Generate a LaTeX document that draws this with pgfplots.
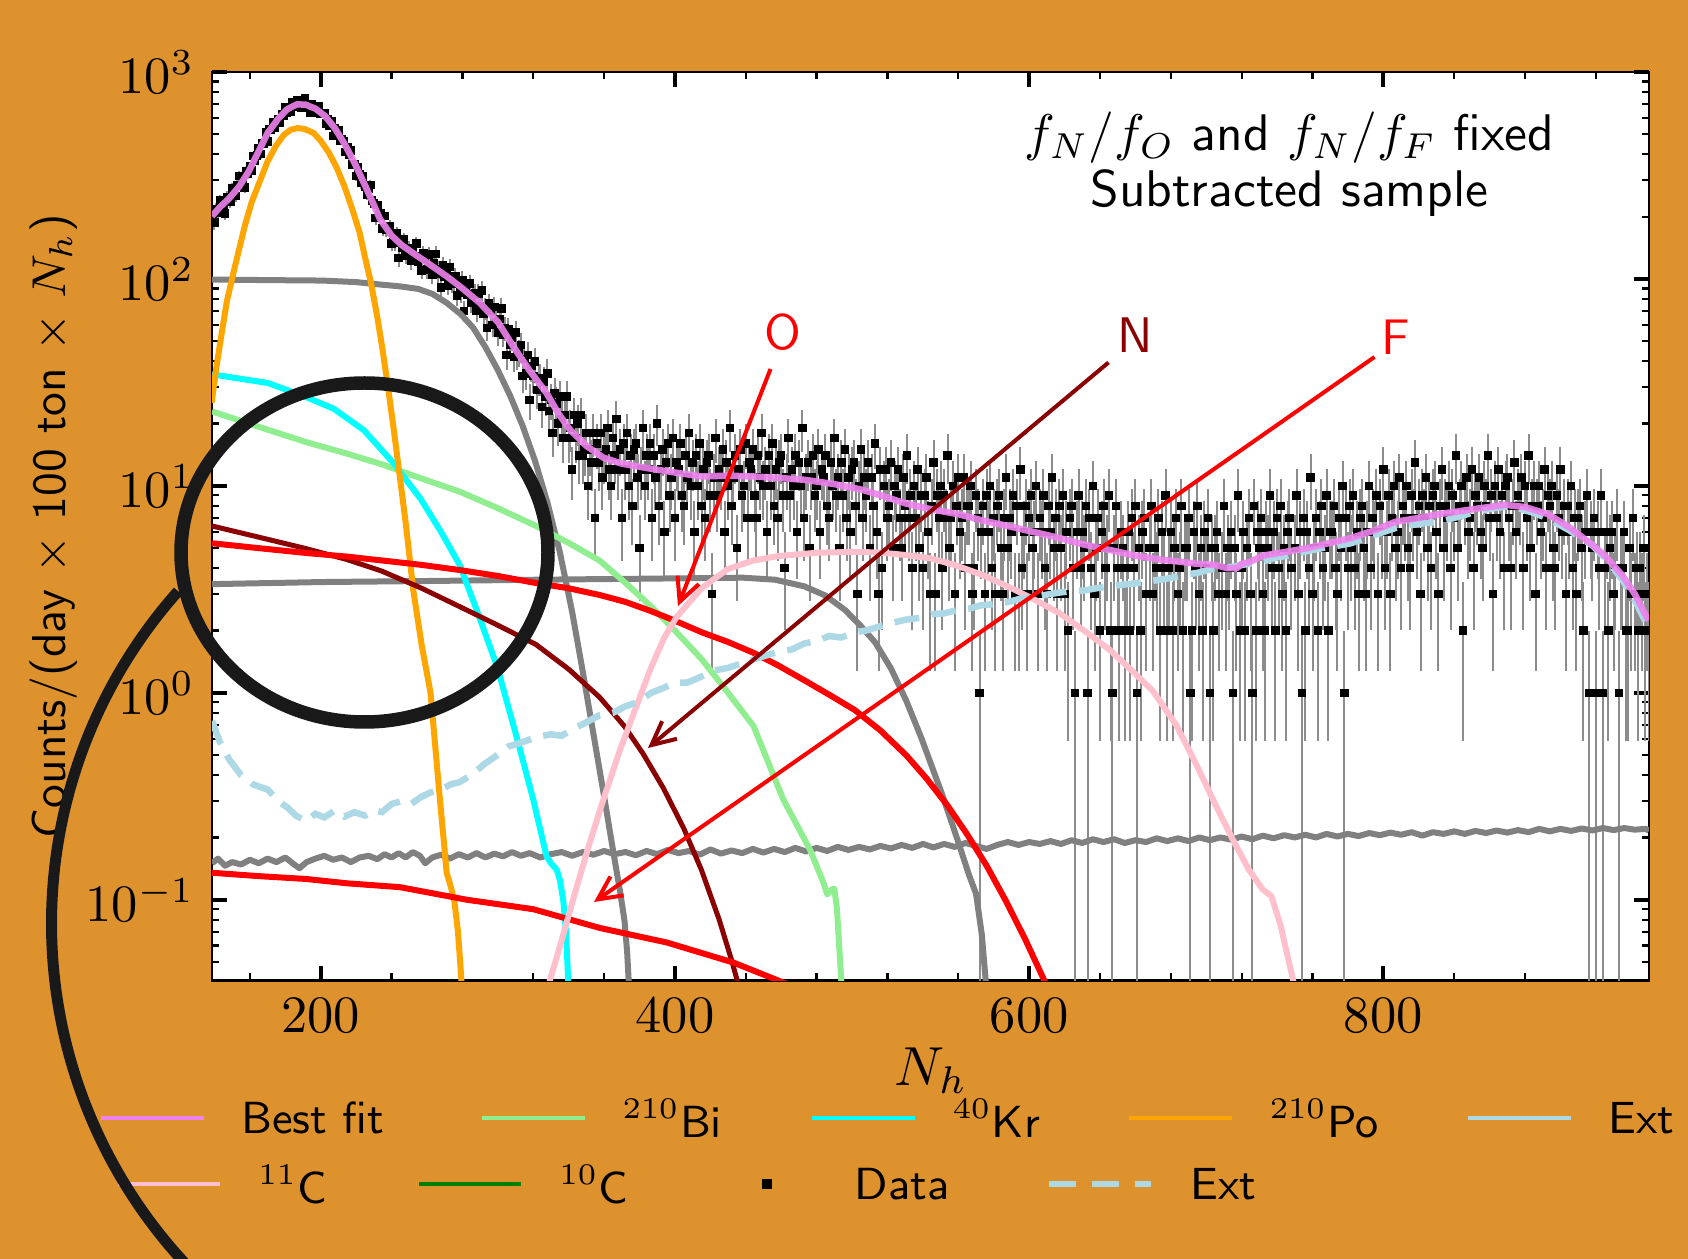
\RequirePackage{fix-cm}
\documentclass[border=0pt]{standalone}
\usepackage{pgfplots}
\pgfplotsset{compat=1.18}
\usepackage{pgfplotstable}
\usetikzlibrary{arrows.meta}
\definecolor{bg}{RGB}{221,146,46}
\definecolor{bestfit}{RGB}{238,130,238}
\definecolor{bi}{RGB}{144,238,144}
\definecolor{kr}{RGB}{0,255,255}
\definecolor{po}{RGB}{255,165,0}
\definecolor{ext}{RGB}{173,216,230}
\definecolor{cel}{RGB}{255,192,203}
\definecolor{cten}{RGB}{0,128,0}
\definecolor{dred}{RGB}{139,0,0}
\definecolor{grayc}{RGB}{128,128,128}
\pgfplotstableread[row sep=\\]{
x y\\
139 206\\140 187\\141 218\\142 208\\143 240\\144 211\\145 227\\146 207\\147 249\\148 246\\
149 235\\150 273\\151 258\\152 252\\153 283\\154 315\\155 281\\156 301\\157 276\\158 333\\
159 323\\160 349\\161 335\\162 393\\163 373\\164 396\\165 428\\166 402\\167 453\\168 452\\
169 509\\170 461\\171 529\\172 525\\173 573\\174 537\\175 574\\176 592\\177 567\\178 627\\
179 617\\180 679\\181 633\\182 669\\183 643\\184 712\\185 701\\186 676\\187 731\\188 695\\
189 673\\190 710\\191 744\\192 677\\193 691\\194 637\\195 702\\196 667\\197 678\\198 632\\
199 682\\200 626\\201 625\\202 633\\203 565\\204 588\\205 552\\206 577\\207 490\\208 533\\
209 503\\210 523\\211 463\\212 472\\213 463\\214 411\\215 433\\216 397\\217 418\\218 358\\
219 359\\220 315\\221 346\\222 322\\223 290\\224 312\\225 279\\226 256\\227 272\\228 285\\
229 239\\230 232\\231 197\\232 228\\233 206\\234 208\\235 175\\236 201\\237 173\\238 174\\
239 180\\240 148\\241 164\\242 149\\243 166\\244 126\\245 152\\246 141\\247 155\\248 130\\
249 139\\250 141\\251 122\\252 141\\253 128\\254 148\\255 121\\256 127\\257 110\\258 133\\
259 125\\260 111\\261 131\\262 114\\263 105\\264 119\\265 132\\266 106\\267 111\\268 91\\
269 117\\270 103\\271 108\\272 93\\273 114\\274 95\\275 97\\276 103\\277 83\\278 96\\
279 86\\280 99\\281 70\\282 91\\283 84\\284 95\\285 77\\286 84\\287 85\\288 70\\
289 85\\290 74\\291 88\\292 68\\293 72\\294 58\\295 76\\296 70\\297 60\\298 73\\
299 62\\300 55\\301 64\\302 72\\303 54\\304 58\\305 43\\306 57\\307 48\\308 52\\
309 42\\310 55\\311 43\\312 44\\313 48\\314 34\\315 41\\316 35\\317 43\\318 26\\
319 38\\320 34\\321 40\\322 29\\323 33\\324 33\\325 24\\326 32\\327 27\\328 35\\
329 23\\330 26\\331 18\\332 28\\333 25\\334 20\\335 27\\336 21\\337 17\\338 22\\
339 27\\340 17\\341 19\\342 12\\343 22\\344 17\\345 20\\346 14\\347 22\\348 14\\
349 15\\350 18\\351 10\\352 15\\353 13\\354 18\\355 7\\356 16\\357 13\\358 18\\
359 11\\360 14\\361 15\\362 19\\363 12\\364 10\\365 17\\366 14\\367 21\\368 12\\
369 15\\370 7\\371 16\\372 12\\373 18\\374 10\\375 14\\376 8\\377 15\\378 16\\
379 11\\380 5\\381 12\\382 19\\383 10\\384 14\\385 12\\386 16\\387 7\\388 14\\
389 11\\390 20\\391 8\\392 12\\393 15\\394 6\\395 13\\396 16\\397 9\\398 11\\
399 17\\400 7\\401 13\\402 12\\403 16\\404 9\\405 8\\406 14\\407 11\\408 18\\
409 10\\410 13\\411 6\\412 14\\413 10\\414 16\\415 8\\416 12\\417 7\\418 13\\
419 14\\420 9\\421 3\\422 11\\423 17\\424 9\\425 12\\426 11\\427 15\\428 6\\
429 13\\430 10\\431 19\\432 8\\433 11\\434 14\\435 5\\436 12\\437 15\\438 9\\
439 10\\440 16\\441 7\\442 13\\443 12\\444 15\\445 9\\446 7\\447 14\\448 11\\
449 18\\450 10\\451 12\\452 6\\453 14\\454 10\\455 16\\456 8\\457 12\\458 7\\
459 13\\460 14\\461 9\\462 4\\463 11\\464 17\\465 9\\466 12\\467 10\\468 14\\
469 6\\470 13\\471 10\\472 19\\473 7\\474 11\\475 13\\476 5\\477 11\\478 14\\
479 9\\480 10\\481 15\\482 6\\483 12\\484 11\\485 14\\486 8\\487 7\\488 13\\
489 10\\490 17\\491 9\\492 11\\493 5\\494 13\\495 9\\496 15\\497 7\\498 11\\
499 6\\500 12\\501 13\\502 8\\503 3\\504 10\\505 15\\506 7\\507 11\\508 9\\
509 13\\510 5\\511 11\\512 8\\513 16\\514 6\\515 3\\516 12\\517 4\\518 10\\
519 12\\520 7\\521 8\\522 13\\523 5\\524 10\\525 9\\526 12\\527 7\\528 5\\
529 11\\530 8\\531 14\\532 7\\533 9\\534 4\\535 10\\536 7\\537 12\\538 5\\
539 9\\540 4\\541 9\\542 11\\543 6\\544 3\\545 8\\546 13\\547 3\\548 9\\
549 7\\550 10\\551 4\\552 9\\553 7\\554 14\\555 5\\556 7\\557 10\\558 3\\
559 8\\560 11\\561 6\\562 7\\563 11\\564 4\\565 8\\566 8\\567 10\\568 3\\
569 4\\570 9\\571 7\\572 1\\573 6\\574 8\\575 3\\576 9\\577 6\\578 10\\
579 4\\580 7\\581 3\\582 8\\583 9\\584 5\\585 3\\586 7\\587 11\\588 5\\
589 7\\590 6\\591 9\\592 3\\593 8\\594 3\\595 12\\596 4\\597 6\\598 8\\
599 3\\600 7\\601 9\\602 5\\603 6\\604 10\\605 3\\606 7\\607 6\\608 9\\
609 4\\610 3\\611 8\\612 6\\613 11\\614 5\\615 7\\616 3\\617 8\\618 5\\
619 9\\620 3\\621 6\\622 2\\623 7\\624 8\\625 4\\626 1\\627 6\\628 9\\
629 4\\630 6\\631 5\\632 8\\633 1\\634 7\\635 4\\636 10\\637 3\\638 5\\
639 7\\640 2\\641 6\\642 8\\643 4\\644 5\\645 9\\646 2\\647 1\\648 5\\
649 8\\650 4\\651 2\\652 6\\653 5\\654 2\\655 4\\656 6\\657 2\\658 7\\
659 4\\660 8\\661 1\\662 5\\663 2\\664 6\\665 7\\666 3\\668 5\\669 8\\
670 3\\671 5\\672 4\\673 7\\674 2\\675 6\\676 4\\677 9\\678 2\\679 4\\
680 6\\681 2\\682 5\\683 7\\684 3\\685 4\\686 8\\687 2\\688 5\\689 5\\
690 7\\691 1\\692 2\\693 6\\694 4\\695 8\\696 3\\697 5\\698 2\\699 6\\
700 4\\701 7\\702 1\\703 5\\704 2\\705 5\\706 6\\707 3\\709 4\\710 8\\
711 3\\712 5\\713 4\\714 6\\715 1\\716 5\\717 3\\718 9\\719 2\\720 4\\
721 6\\722 2\\723 5\\724 7\\725 3\\726 1\\727 8\\728 2\\729 6\\730 5\\
731 7\\732 3\\733 2\\734 6\\735 5\\736 9\\737 4\\738 6\\739 2\\740 7\\
741 4\\742 8\\743 3\\744 5\\745 2\\746 6\\747 7\\748 4\\750 5\\751 9\\
752 3\\753 6\\754 1\\755 7\\756 2\\757 6\\758 4\\759 11\\760 3\\761 5\\
762 7\\763 2\\764 6\\765 8\\766 4\\767 5\\768 9\\769 2\\770 6\\771 6\\
772 8\\773 4\\774 3\\775 7\\776 5\\777 10\\778 1\\779 7\\780 4\\781 8\\
782 5\\783 9\\784 4\\785 6\\786 3\\787 7\\788 8\\789 5\\790 3\\791 6\\
792 10\\793 4\\794 7\\795 6\\796 9\\797 3\\798 8\\799 6\\800 12\\801 4\\
802 6\\803 9\\804 3\\805 7\\806 10\\807 5\\808 6\\809 11\\810 4\\811 8\\
812 7\\813 10\\814 5\\815 4\\816 9\\817 7\\818 13\\819 6\\820 8\\821 3\\
822 9\\823 7\\824 11\\825 5\\826 8\\827 4\\828 9\\829 10\\830 6\\831 3\\
832 8\\833 12\\834 5\\835 8\\836 7\\837 10\\838 4\\839 9\\840 7\\841 14\\
842 5\\843 8\\844 10\\845 2\\846 8\\847 11\\848 6\\849 7\\850 12\\851 4\\
852 9\\853 8\\854 11\\855 6\\856 5\\857 10\\858 8\\859 14\\860 7\\861 9\\
862 3\\863 10\\864 7\\865 12\\866 6\\867 9\\868 4\\869 10\\870 11\\871 7\\
872 4\\873 8\\874 13\\875 6\\876 9\\877 8\\878 11\\879 4\\880 10\\881 7\\
882 14\\883 5\\884 8\\885 10\\886 3\\887 8\\888 10\\889 6\\890 7\\891 12\\
892 4\\893 9\\894 8\\895 10\\896 5\\897 4\\898 9\\899 7\\900 12\\901 6\\
902 8\\903 3\\904 8\\905 6\\906 10\\907 4\\908 7\\909 3\\910 7\\911 8\\
912 5\\913 2\\914 6\\915 9\\916 1\\917 6\\918 5\\919 7\\920 1\\921 6\\
922 4\\923 9\\924 1\\925 4\\926 6\\927 2\\928 5\\929 6\\930 3\\931 4\\
932 7\\933 1\\934 4\\935 4\\936 6\\937 2\\938 2\\939 5\\940 3\\941 7\\
942 3\\943 4\\944 2\\945 4\\946 3\\947 5\\948 2\\949 3\\950 2\\
}\datatable
\begin{document}
\begin{tikzpicture}
\fill[bg] (-42.4pt,-55.7pt) rectangle (295.2pt,196.1pt);
\begin{axis}[
  at={(0pt,0pt)}, anchor=south west,
  scale only axis, width=287.4pt, height=181.7pt,
  xmin=138.6, xmax=950, ymode=log, ymin=0.0407, ymax=1000,
  axis background/.style={fill=white},
  clip marker paths=true,
  xtick={200,400,600,800},
  minor xtick={160,240,280,320,360,440,480,520,560,640,680,720,760,840,880,920},
  tick align=inside,
  major tick length=3pt, minor tick length=1.5pt,
  major tick style={line width=0.8pt, black},
  minor tick style={line width=0.45pt, black},
  axis line style={line width=0.55pt},
  tick label style={font=\fontsize{10.5}{12}\selectfont},
  xlabel={$N_h$},
  xlabel style={at={(axis description cs:0.5004,-0.0996)}, anchor=center, font=\fontsize{11}{13}\selectfont},
  ylabel={Counts/(day $\times$ 100 ton $\times$ $N_h$)},
  ylabel style={at={(axis description cs:-0.1103,0.5)}, anchor=center, font=\fontsize{9.5}{11}\selectfont\sffamily},
  legend columns=5,
  legend cell align=left,
  legend image code/.code={\draw[#1] (0pt,0pt) -- (20.5pt,0pt);},
  legend style={draw=none, fill=none, inner sep=0pt, outer sep=0pt,
    font=\fontsize{9}{11}\selectfont\sffamily,
    nodes={inner sep=0pt, text depth=0pt},
    /tikz/column sep=0pt,
    /tikz/every odd column/.append style={column sep=7.2pt},
    at={(axis description cs:-0.0786,-0.1513)}, anchor=west},
]
% data
\addplot[forget plot, only marks, mark=square*, mark size=0.75pt,
  mark options={draw=black, fill=black, line width=0.2pt},
  error bars/.cd, y dir=both, y explicit,
  error bar style={line width=0.4pt, color=gray!90}, error mark=none]
  table[x=x, y=y, y error plus expr={sqrt(\thisrow{y})},
        y error minus expr={\thisrow{y}-max(\thisrow{y}-sqrt(\thisrow{y}),0.01)}] {\datatable};
% gray 1
\addplot[forget plot, grayc, line width=1.2pt, line join=round] coordinates {
(138.6,99.3)(170,98.7)(201.2,98.2)(220,96.5)(233.4,94)(245,92)(255,89.5)(263,84.7)(271.1,76.7)(279,67.6)(286,58.2)(293,46.8)(300,36.3)(307,27.2)(314,19.5)(321,13.2)(328,8.32)(335,4.79)(342,2.45)(348,1.26)(354,0.631)(360,0.316)(365,0.174)(369,0.110)(371.5,0.0794)(373,0.0562)(374.2,0.036)};
% gray 2
\addplot[forget plot, grayc, line width=1.2pt, line join=round] coordinates {
(138.6,3.35)(201.2,3.43)(262,3.47)(322.8,3.52)(383.6,3.56)(438.3,3.60)(456.5,3.52)(473,3.27)(485,2.95)(496.1,2.51)(505,2.1)(513.1,1.75)(522,1.31)(530.7,0.912)(539.2,0.603)(550.8,0.324)(559.9,0.191)(566,0.132)(570,0.107)(573.3,0.0676)(576,0.036)};
% gray 3
\addplot[forget plot, grayc, line width=1.2pt, line join=round] coordinates {
(138.6,0.150)(142,0.158)(146,0.146)(150,0.152)(155,0.148)(160,0.156)(165,0.150)(170,0.158)(175,0.152)(180,0.160)(185,0.148)(188,0.142)(192,0.152)(197,0.158)(202,0.163)(207,0.156)(212,0.160)(217,0.152)(222,0.160)(227,0.163)(232,0.157)(236,0.166)(240,0.160)(244,0.168)(248,0.160)(252,0.170)(256,0.163)(259,0.150)(263,0.160)(268,0.165)(273,0.158)(278,0.166)(283,0.160)(288,0.168)(293,0.160)(298,0.167)(303,0.162)(308,0.170)(313,0.163)(318,0.168)(324,0.160)(330,0.166)(336,0.170)(342,0.163)(348,0.170)(354,0.165)(360,0.172)(366,0.166)(372,0.170)(378,0.164)(384,0.172)(390,0.166)(396,0.174)(402,0.168)(408,0.172)(414,0.165)(420,0.175)(426,0.167)(432,0.173)(438,0.168)(444,0.176)(450,0.169)(456,0.176)(462,0.170)(468,0.178)(474,0.171)(480,0.178)(486,0.172)(492,0.180)(498,0.174)(504,0.180)(510,0.175)(516,0.182)(522,0.177)(528,0.184)(534,0.178)(540,0.186)(546,0.179)(552,0.186)(558,0.180)(564,0.188)(570,0.182)(576,0.176)(582,0.184)(588,0.190)(594,0.184)(600,0.190)(606,0.186)(612,0.192)(618,0.186)(624,0.194)(630,0.188)(636,0.196)(642,0.190)(648,0.196)(654,0.188)(660,0.194)(666,0.190)(672,0.198)(678,0.192)(684,0.198)(690,0.192)(696,0.200)(702,0.194)(708,0.200)(714,0.195)(720,0.202)(726,0.196)(732,0.204)(738,0.198)(744,0.205)(750,0.200)(756,0.206)(762,0.200)(768,0.208)(774,0.202)(780,0.208)(786,0.203)(792,0.210)(798,0.205)(804,0.211)(810,0.206)(816,0.212)(822,0.204)(828,0.212)(834,0.208)(840,0.214)(846,0.208)(852,0.215)(858,0.210)(864,0.216)(870,0.211)(876,0.217)(882,0.212)(888,0.220)(894,0.214)(900,0.220)(906,0.215)(912,0.221)(918,0.216)(924,0.222)(930,0.217)(936,0.222)(942,0.218)(948,0.220)(950,0.216)};
% 210Bi
\addplot[forget plot, bi, line width=1.2pt, line join=round] coordinates {
(138.6,22.9)(165,19.3)(191.5,16.3)(215,14.3)(234.6,12.7)(255,11)(278.4,9.38)(300,7.8)(321.6,6.40)(340,5.3)(357.4,4.36)(372,3.4)(386.6,2.61)(400,2.0)(415.2,1.45)(430,1.0)(444.4,0.690)(461.2,0.305)(476.2,0.175)(484,0.12)(486,0.106)(488.5,0.112)(490,0.113)(491.5,0.09)(494.3,0.036)};
% 40Kr
\addplot[forget plot, kr, line width=1.2pt, line join=round] coordinates {
(138.6,34.6)(170.2,31.4)(191.5,26.9)(207.3,23.6)(224.3,18.6)(240.7,13.0)(256.5,8.63)(268.1,5.96)(278.4,4.16)(288.7,2.43)(299.7,1.33)(310.6,0.612)(320,0.305)(327.5,0.162)(330,0.15)(333.2,0.140)(335,0.125)(336.9,0.1)(338.5,0.07)(340,0.036)};
% 210Po
\addplot[forget plot, po, line width=1.2pt, line join=round] coordinates {
(138.4,25.2)(141,37)(144.1,54.8)(147,78)(150.7,107)(154,140)(157.1,180)(161,235)(165.9,301)(170,370)(174.5,437)(179,495)(183,526)(187,536)(191,530)(196,507)(200,465)(204.7,406)(209,345)(213.4,280)(218,215)(222,167)(225.2,125)(228.4,95.5)(232,65)(234.9,45.5)(238,30)(241.5,18.0)(245,10.5)(248,6.6)(252.3,3.11)(257,1.7)(262,1.0)(267.3,0.305)(269.3,0.2)(271.1,0.135)(273.5,0.115)(275.5,0.098)(277.5,0.07)(279.9,0.036)};
% N (dark red)
\addplot[forget plot, dred, line width=1.0pt, line join=round] coordinates {
(138.6,6.40)(165,5.65)(191.5,4.98)(215,4.4)(234.6,3.87)(257,3.2)(278.4,2.61)(300,2.12)(321.6,1.71)(340,1.3)(357.4,0.953)(371.4,0.690)(382,0.508)(393.4,0.347)(405,0.221)(415,0.139)(425,0.080)(432,0.051)(437,0.0357)};
% O (red)
\addplot[forget plot, red, line width=1.2pt, line join=round] coordinates {
(138.6,5.28)(165,5.0)(191.5,4.74)(215,4.55)(234.6,4.36)(257,4.15)(278.4,3.92)(300,3.67)(321.6,3.39)(340,3.2)(357.4,2.97)(372,2.75)(386.6,2.48)(400,2.23)(415.2,1.96)(430,1.76)(444.4,1.56)(458,1.36)(473.0,1.15)(487,0.98)(501.5,0.826)(516,0.658)(530.7,0.498)(542,0.386)(553.8,0.286)(565,0.207)(576,0.146)(587,0.0982)(598,0.0638)(608,0.0417)(614,0.0318)};
% F (red)
\addplot[forget plot, red, line width=1.2pt, line join=round] coordinates {
(138.6,0.135)(165,0.13)(191.5,0.126)(215,0.12)(244.7,0.115)(282.4,0.1)(320,0.090)(357.7,0.073)(395.2,0.0622)(433.0,0.0497)(457.4,0.041)(470,0.037)};
% 11C
\addplot[forget plot, cel, line width=1.2pt, line join=round] coordinates {
(327.5,0.036)(335,0.0593)(344.1,0.112)(352,0.19)(359.6,0.305)(369,0.530)(378,0.85)(386.6,1.33)(394,1.85)(401.2,2.34)(415,3.2)(429.8,3.96)(444,4.35)(458.4,4.58)(480,4.75)(501.5,4.80)(516,4.76)(530.7,4.63)(545,4.45)(559.3,4.11)(574,3.7)(587.8,3.27)(602,2.85)(617.0,2.43)(631,2.0)(645.6,1.61)(658,1.28)(669.9,1.02)(683,0.7)(694.8,0.443)(705,0.29)(714.9,0.196)(724,0.14)(731.9,0.112)(736.8,0.104)(742,0.075)(750.5,0.036)};
% Ext (dashed)
\addplot[forget plot, ext, line width=1.3pt, dash pattern=on 5pt off 2.5pt] coordinates {
(138.6,0.732)(143,0.58)(148.3,0.476)(155,0.40)(162,0.36)(170.2,0.340)(176,0.30)(181,0.28)(186,0.255)(191.5,0.240)(197,0.26)(202,0.25)(208,0.27)(213.4,0.252)(219,0.265)(225,0.255)(230,0.27)(234.6,0.265)(240,0.29)(246,0.30)(251,0.29)(256.5,0.313)(262,0.33)(268,0.34)(273,0.36)(278.4,0.370)(285,0.40)(292,0.45)(299.7,0.50)(306,0.55)(312,0.57)(321.6,0.61)(330,0.63)(336,0.62)(342.9,0.67)(350,0.72)(357.4,0.78)(365,0.80)(372,0.86)(379,0.90)(386.6,1.0)(393,1.05)(400,1.12)(407,1.12)(415.2,1.20)(422,1.28)(430,1.32)(437,1.38)(444.4,1.45)(452,1.52)(459,1.58)(466,1.62)(473.0,1.73)(480,1.78)(487,1.88)(494,1.85)(501.5,1.96)(508,2.0)(516,2.1)(523,2.18)(530.7,2.26)(538,2.3)(545,2.4)(552,2.42)(559.3,2.51)(566,2.55)(573,2.65)(580,2.68)(587.8,2.74)(595,2.85)(602,2.9)(610,2.98)(617,3.05)(624,3.1)(631,3.12)(638,3.2)(645.6,3.27)(653,3.33)(660,3.38)(667,3.45)(674.2,3.52)(681,3.6)(688,3.72)(695,3.8)(703.3,3.96)(710,4.0)(717,4.1)(724,4.2)(731.9,4.31)(739,4.5)(746,4.6)(753,4.75)(761.1,4.92)(768,5.05)(775,5.15)(781.8,5.28)(790,5.6)(798,5.9)(806.7,6.25)(815,6.45)(823,6.6)(831.6,6.71)(840,7.0)(850,7.4)(860,7.75)(868.7,7.94)(876,7.8)(885,7.4)(893,6.95)(905,6.1)(917.9,5.16)(925,4.5)(934.9,3.52)(942,2.8)(948.9,2.13)(950,2.05)};
% Best fit
\addplot[forget plot, bestfit, line width=1.3pt, opacity=0.9, line join=round] coordinates {
(138.6,201)(143,222)(148.3,245)(154,280)(159.3,330)(165,415)(170.2,510)(176,595)(181,660)(186.6,698)(191.5,695)(197,665)(202.4,613)(208,535)(213.4,450)(219,365)(224.3,292)(229,238)(233.4,195)(240,162)(245.6,146)(252.3,133)(260,120)(271.1,103)(280,90)(289.9,76.5)(300,62)(308.7,47.2)(318,36)(327.5,28.1)(334,22.5)(340.7,18.7)(350,15.6)(359.5,13.7)(370,12.8)(384,12.2)(400,11.6)(415,11.1)(430,11.2)(444.4,11.1)(460,10.9)(473,10.7)(490,10.2)(505.2,9.6)(518,8.9)(530.7,8.2)(545,7.7)(559.9,7.3)(574,6.8)(587.8,6.4)(602,6.0)(617,5.6)(631,5.2)(645.6,4.9)(660,4.6)(674.2,4.4)(685,4.3)(694.8,4.2)(705,4.15)(712,4.0)(717.3,4.0)(720,4.2)(725,4.3)(731.9,4.6)(745,4.8)(756.8,5.0)(770,5.3)(781.8,5.6)(795,6.1)(806.7,6.7)(820,7.0)(831.6,7.3)(850,7.7)(868.7,8.1)(880,7.9)(893,7.3)(905,6.3)(917.9,5.2)(925,4.6)(934.9,3.7)(942,3.0)(948.9,2.3)(950,2.25)};
% legend row 1
\addlegendimage{bestfit, line width=0.8pt}
\addlegendentry{\makebox[47.7pt][l]{Best fit}}
\addlegendimage{bi, line width=0.8pt}
\addlegendentry{\makebox[37.55pt][l]{$^{210}$Bi}}
\addlegendimage{kr, line width=0.8pt}
\addlegendentry{\makebox[34.9pt][l]{$^{40}$Kr}}
\addlegendimage{po, line width=0.8pt}
\addlegendentry{\makebox[39.25pt][l]{$^{210}$Po}}
\addlegendimage{ext, line width=0.8pt}
\addlegendentry{Ext}
\end{axis}
\begin{axis}[
  at={(0pt,0pt)}, anchor=south west,
  scale only axis, width=287.4pt, height=181.7pt,
  hide axis, xmin=0, xmax=1, ymin=0, ymax=1,
  legend columns=4,
  legend cell align=left,
  legend image code/.code={\draw[#1] (0pt,0pt) -- (20.5pt,0pt);},
  legend style={draw=none, fill=none, inner sep=0pt, outer sep=0pt,
    font=\fontsize{9}{11}\selectfont\sffamily,
    nodes={inner sep=0pt, text depth=0pt},
    /tikz/column sep=0pt,
    /tikz/every odd column/.append style={column sep=7.2pt},
    at={(axis description cs:-0.0668,-0.224)}, anchor=west},
]
\addlegendimage{cel, line width=0.8pt}
\addlegendentry{\makebox[31.7pt][l]{$^{11}$C}}
\addlegendimage{cten, line width=0.8pt}
\addlegendentry{\makebox[31.0pt][l]{$^{10}$C}}
\addlegendimage{legend image code/.code={\path (0pt,0pt) (20.5pt,0pt); \fill[black] (9.45pt,-0.8pt) rectangle (11.05pt,0.8pt);}}
\addlegendentry{\makebox[38.1pt][l]{Data}}
\addlegendimage{ext, line width=1.3pt, dash pattern=on 5.4pt off 3.2pt}
\addlegendentry{Ext}
\end{axis}
% annotations
\node[anchor=base, font=\fontsize{10.3}{12}\selectfont\sffamily] at (215.5pt,166pt) {$f_N/f_O$ and $f_N/f_F$ fixed};
\node[anchor=base, font=\fontsize{10.3}{12}\selectfont\sffamily] at (215.5pt,154.8pt) {Subtracted sample};
\node[red, font=\fontsize{10}{12}\selectfont\sffamily] at (114.2pt,129.7pt) {O};
\node[dred, font=\fontsize{10}{12}\selectfont\sffamily] at (184.7pt,129.1pt) {N};
\node[red, font=\fontsize{10}{12}\selectfont\sffamily] at (236.8pt,128.7pt) {F};
\draw[red, line width=0.8pt, -{Straight Barb[length=4.7pt,width=4.6pt]}] (111.7pt,122.3pt) -- (93.2pt,74.9pt);
\draw[dred, line width=0.8pt, -{Straight Barb[length=4.7pt,width=4.6pt]}] (179.3pt,123.6pt) -- (87.2pt,46.5pt);
\draw[red, line width=0.8pt, -{Straight Barb[length=4.7pt,width=4.6pt]}] (232.5pt,124.7pt) -- (76.4pt,15.7pt);
% magnifier
\begin{scope}
\clip (-42.4pt,-55.7pt) rectangle (295.2pt,196.1pt);
\draw[black!90, line width=2.7pt] (30.5pt,85.6pt) ellipse [x radius=36.7pt, y radius=33.9pt];
\draw[black!90, line width=2.2pt] (67.8pt,11.4pt) ++(138.3:99.9pt) arc[start angle=138.3, end angle=232, radius=99.9pt];
\end{scope}
\pgfresetboundingbox
\path[use as bounding box] (-42.4pt,-55.7pt) rectangle (295.2pt,196.1pt);
\end{tikzpicture}
\end{document}
